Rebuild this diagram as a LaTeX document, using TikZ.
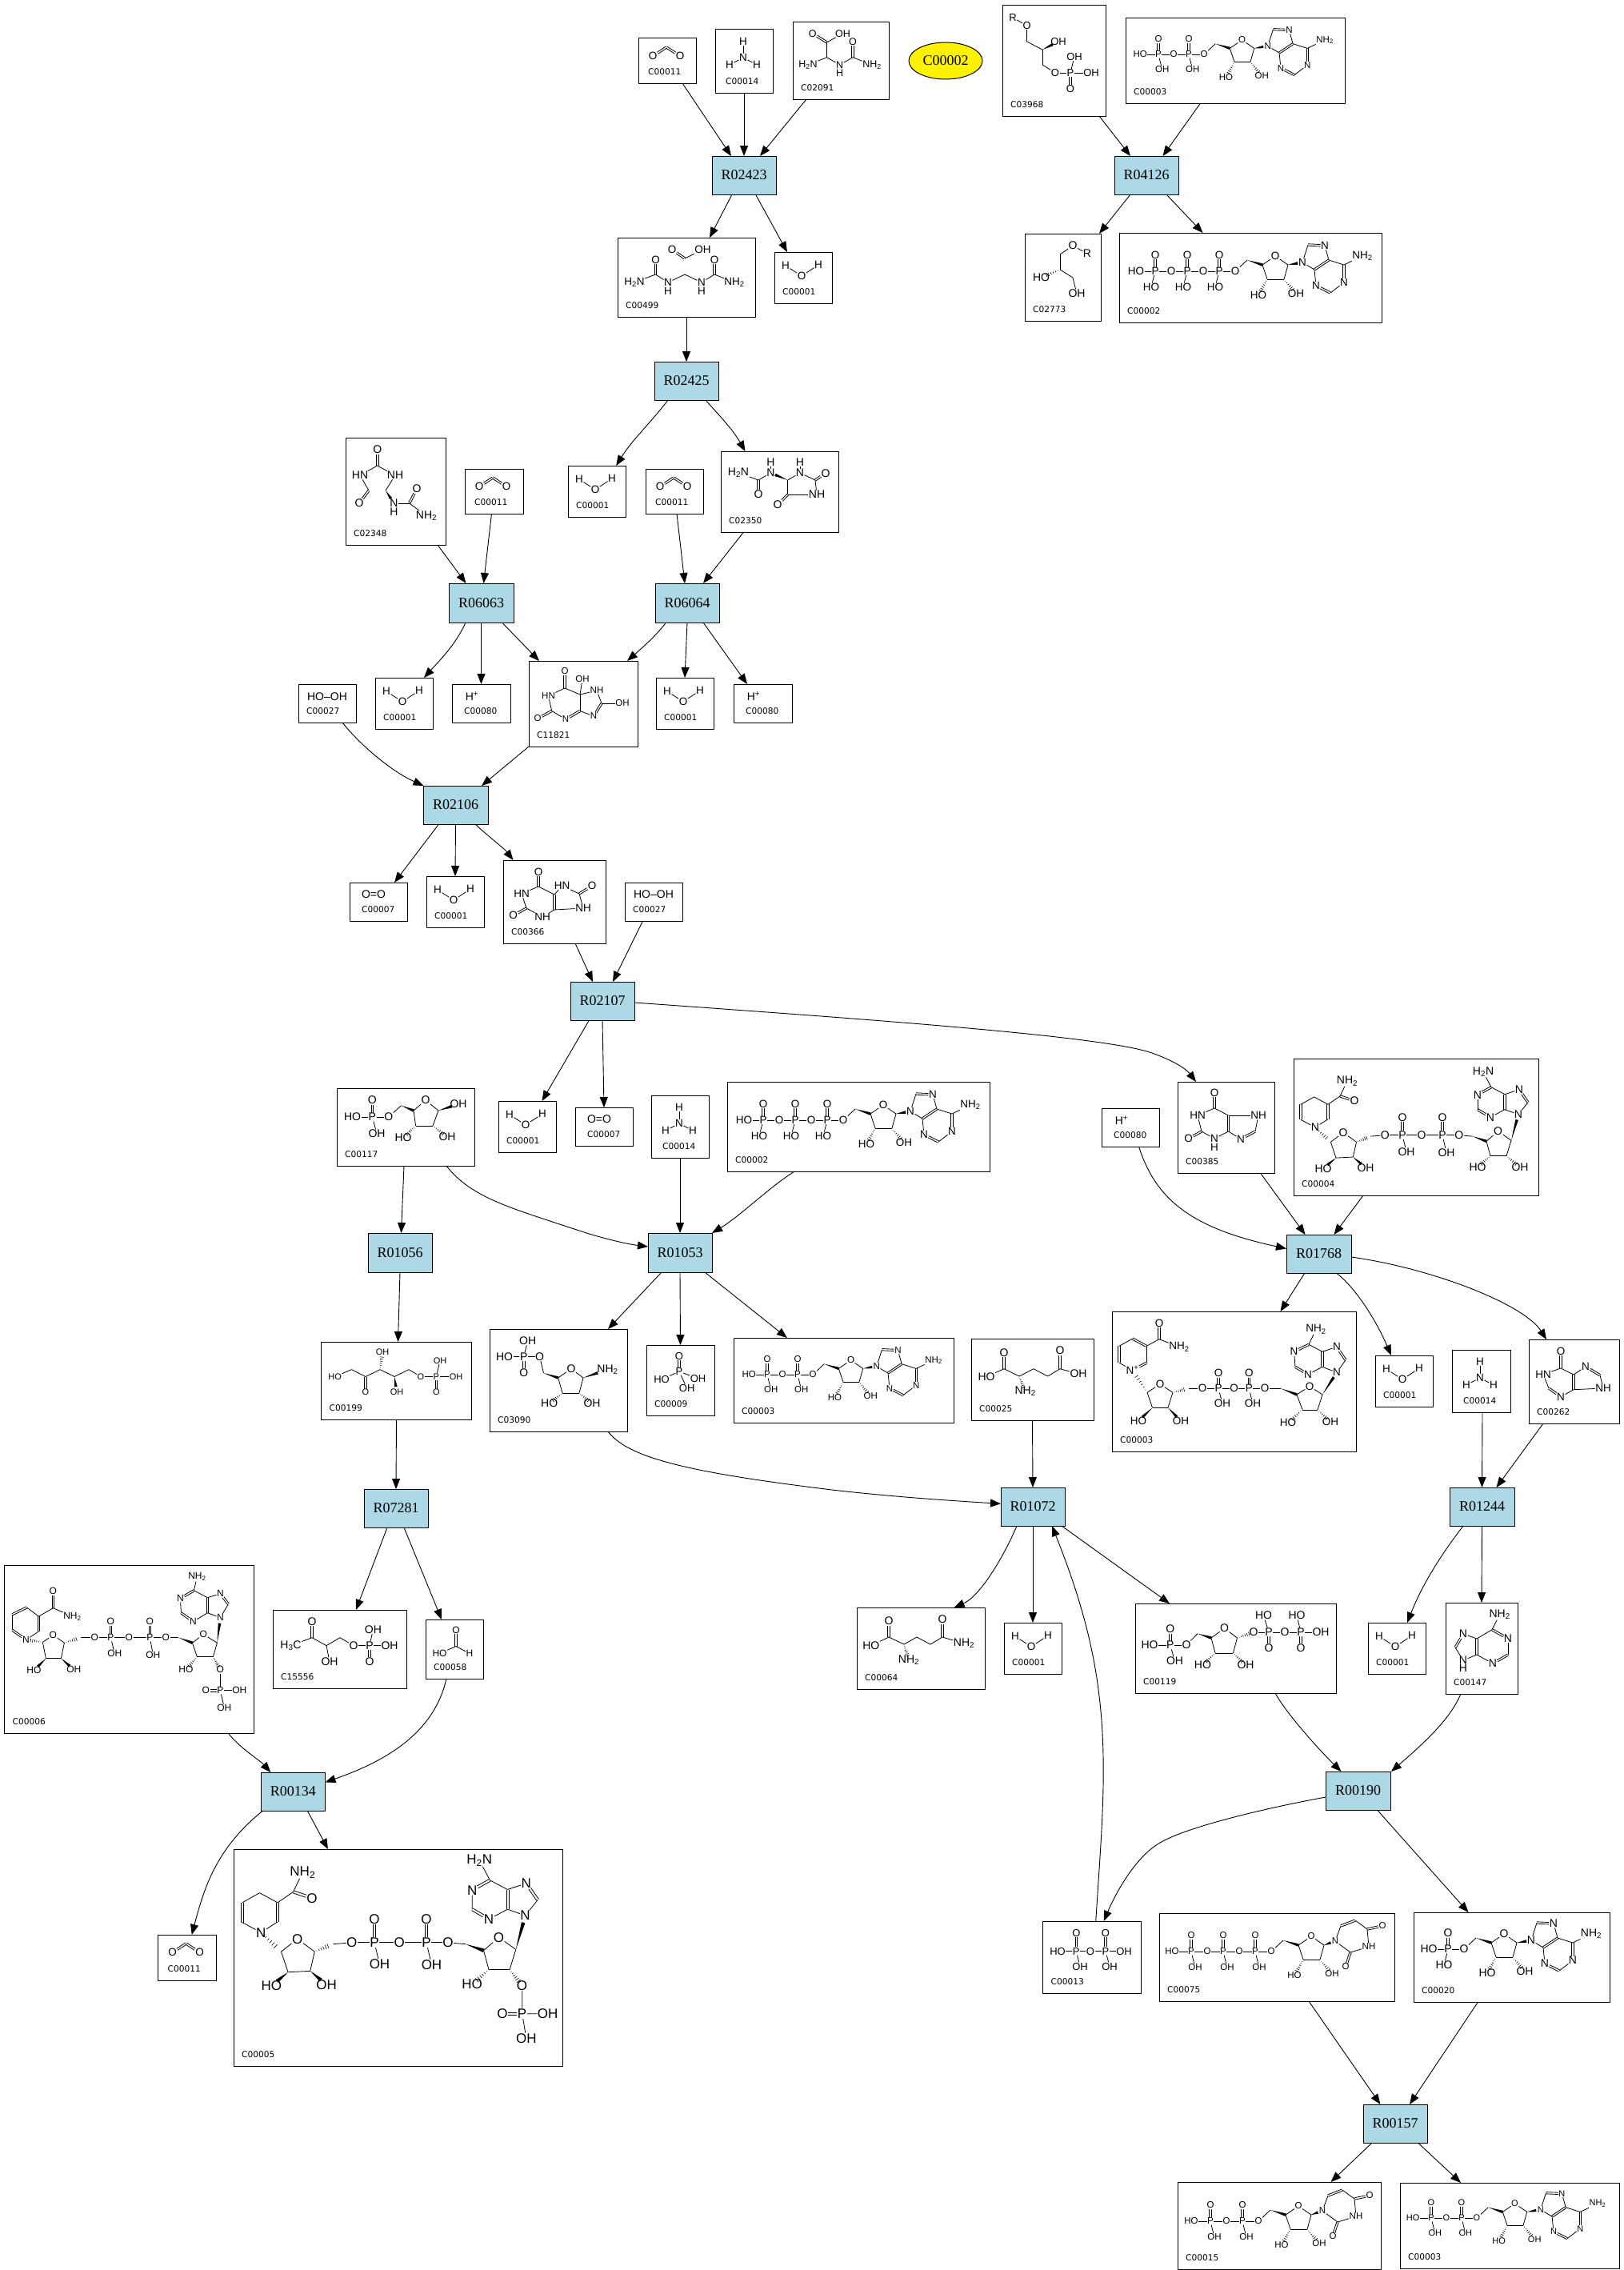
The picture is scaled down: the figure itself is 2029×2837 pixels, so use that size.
\documentclass[tikz,border=0pt]{standalone}
\usepackage{fontspec}
\setmainfont{Liberation Sans}
\newfontfamily\rfont{Liberation Serif}
\newfontfamily\idfont{DejaVu Sans}
\usetikzlibrary{calc,arrows.meta,shapes.geometric}
\definecolor{rblue}{HTML}{ADD8E6}
\def\atsz{13}
\newcommand\atfont{\fontsize{\atsz}{\atsz}\selectfont}
\newcommand\NHt{NH\textsubscript{2}}
\newcommand\HtN{H\textsubscript{2}N}
\tikzset{
 comp/.style={draw=black,line width=1pt,fill=white,inner sep=0,outer sep=0},
 react/.style={draw=black,line width=1pt,fill=rblue,inner sep=0,outer sep=0,font=\rfont\fontsize{18}{18}\selectfont},
 cid/.style={anchor=west,inner sep=0,font=\idfont\fontsize{10.6}{11}\selectfont},
 atom/.style={inner sep=.4pt,font=\atfont},
 bond/.style={line width=.8pt},
 edge/.style={line width=.9pt,-{Triangle[length=13pt,width=10pt]}}
}
\newcommand\cbox[6][10]{\pgfmathsetmacro\bxc{(#3+#5)/2}\pgfmathsetmacro\byc{(#4+#6)/2}%
 \pgfmathsetmacro\bxw{#5-#3}\pgfmathsetmacro\byh{#6-#4}\pgfmathsetmacro\bxl{#3+#1}\pgfmathsetmacro\byl{#6-14.5}%
 \node[comp,minimum width=\bxw pt,minimum height=\byh pt](#2) at (\bxc,\byc){};%
 \node[cid](#2-id) at (\bxl,\byl){\csname idtxt\endcsname};}
\newcommand\rnode[5]{\pgfmathsetmacro\bxc{(#2+#4)/2}\pgfmathsetmacro\byc{(#3+#5)/2}%
 \pgfmathsetmacro\bxw{#4-#2}\pgfmathsetmacro\byh{#5-#3}%
 \node[react,minimum width=\bxw pt,minimum height=\byh pt](#1) at (\bxc,\byc){#1};}
\newcommand\cb[7][10]{\def\idtxt{#7}\cbox[#1]{#2}{#3}{#4}{#5}{#6}}
\newcommand\ess[4]{\draw[edge] ([xshift=#2pt]#1.south) -- ([xshift=#4pt]#3.north);}
\newcommand\ecv[5]{\draw[edge] ([xshift=#2pt]#1.south) #5 ([xshift=#4pt]#3.north);}
\newcommand\atm[4]{\node[atom](#1) at (#2,#3){#4};}
\newcommand\pnt[3]{\coordinate (#1) at (#2,#3);}
\newcommand\bnd[1]{\foreach \bu/\bv in {#1}{\draw[bond] (\bu)--(\bv);}}
\newcommand\dbd[1]{\foreach \bu/\bv in {#1}{\path let \p1=($(\bv)-(\bu)$),\n1={atan2(\y1,\x1)},\n2={\n1+180} in coordinate (da) at (\bu.\n1) coordinate (db) at (\bv.\n2);%
 \draw[bond] ($(da)!1.2pt!90:(db)$) -- ($(db)!1.2pt!-90:(da)$);%
 \draw[bond] ($(da)!1.2pt!-90:(db)$) -- ($(db)!1.2pt!90:(da)$);}}
\newcommand\wdg[3]{\coordinate (wt) at ($(#2)!#3pt!(#1)$);\fill ($(#1)$) -- ($(wt)!1.8pt!90:(#1)$) -- ($(wt)!1.8pt!-90:(#1)$) -- cycle;}
\newcommand\hsh[2]{\foreach \hf in {.12,.24,.36,.48,.6,.72}{\pgfmathsetmacro\hw{\hf*3.4}\draw[line width=.6pt] ($($(#1)!\hf!(#2)$)!\hw pt!90:(#2)$) -- ($($(#1)!\hf!(#2)$)!\hw pt!-90:(#2)$);}}
\newcommand\ms[2]{\begin{scope}[name prefix=#1-]\def\atsz{#2}}
\newcommand\me{\end{scope}}
% small molecules, origin = top-left corner of box
\newcommand\water[3]{\begin{scope}[name prefix=#1-,shift={(#2,#3)}]\def\atsz{13.5}\atm{ha}{14}{17}{H}\atm{o}{34}{30}{O}\atm{hb}{55}{16}{H}\bnd{ha/o,o/hb}\end{scope}}
\newcommand\ammonia[3]{\begin{scope}[name prefix=#1-,shift={(#2,#3)}]\def\atsz{13.5}\atm{ha}{35}{15}{H}\atm{n}{35}{35}{N}\atm{hb}{18}{44}{H}\atm{hc}{52}{44}{H}\bnd{ha/n,hb/n,hc/n}\end{scope}}
\newcommand\cotwo[3]{\begin{scope}[name prefix=#1-,shift={(#2,#3)}]\def\atsz{13.5}\atm{oa}{18}{22}{O}\pnt{c}{35}{11}\atm{ob}{52}{22}{O}\dbd{oa/c,c/ob}\end{scope}}
\newcommand\proton[3]{\begin{scope}[name prefix=#1-,shift={(#2,#3)}]\def\atsz{14}\atm{h}{25}{15}{H\textsuperscript{+}}\end{scope}}
% phosphate chain: n, dx of lower label, lower label
\newcommand\phos[3]{\foreach \i in {1,...,#1}{\pgfmathsetmacro\xp{-20-40*(\i-1)}\pgfmathtruncatemacro\ip{\i-1}\pgfmathsetmacro\xo{\xp-20}\pgfmathsetmacro\xb{\xp+#2}\pgfmathsetmacro\xh{\xp-24}%
 \atm{p\i}{\xp}{0}{P}\atm{t\i}{\xp}{-20}{O}\atm{b\i}{\xb}{20}{#3}\dbd{p\i/t\i}\bnd{p\i/b\i,p\i/l\ip}%
 \ifnum\i<#1 \atm{l\i}{\xo}{0}{O}\else\atm{l\i}{\xh}{0}{HO}\fi\bnd{p\i/l\i}}}
\newcommand\ribo{\atm{l0}{0}{0}{O}\pnt{c5}{15}{-14}\pnt{c4}{34}{-8}\atm{o4}{50}{-19}{O}\pnt{c1}{66}{-8}\pnt{c2}{61}{10}\pnt{c3}{40}{10}\atm{o3}{29}{30}{HO}\atm{o2}{76}{28}{OH}%
 \bnd{l0/c5,c4/o4,o4/c1,c1/c2,c2/c3,c3/c4}\wdg{c5}{c4}{0}\hsh{c3}{o3}\hsh{c2}{o2}}
\newcommand\adenine{\atm{n9}{84}{-11}{N}\pnt{c8}{91}{-33}\atm{n7}{112}{-32}{N}\pnt{c5b}{117}{-14}\pnt{c4b}{99}{-2}\atm{n3}{101}{18}{N}\pnt{c2b}{119}{27}\atm{n1}{136}{14}{N}\pnt{c6}{136}{-8}\atm{nh}{159}{-19}{\NHt}%
 \bnd{n9/c8,n7/c5b,c4b/n9,c4b/n3,c2b/n1,c6/c5b,c6/nh}\dbd{c8/n7,c5b/c4b,n3/c2b,n1/c6}\wdg{c1}{n9}{6}}
\newcommand\uracil{\atm{n9}{80}{-13}{N}\pnt{c8}{87}{-32}\pnt{c7}{105}{-39}\pnt{c4b}{120}{-28}\atm{ox}{139}{-32}{O}\atm{nh}{122}{-6}{NH}\pnt{c2b}{99}{1}\atm{oy}{93}{19}{O}%
 \bnd{n9/c8,c7/c4b,c4b/nh,nh/c2b,c2b/n9}\dbd{c8/c7,c4b/ox,c2b/oy}\wdg{c1}{n9}{6}}
% prefix,x,y,scale,font,n,dx,lowerlabel,base
\newcommand\nucl[9]{\begin{scope}[name prefix=#1-,shift={(#2,#3)},scale=#4]\def\atsz{#5}\ribo\phos{#6}{#7}{#8}#9\end{scope}}
% NADH layout; #5=1 with 2'-phosphate
\newcommand\nadh[5]{\begin{scope}[name prefix=#1-,shift={(#2,#3)},scale=#4]\def\atsz{\nadsz}%
 \pnt{r1}{-110.4}{-47.8}\pnt{r2}{-93}{-38.4}\pnt{r3}{-93}{-20}\atm{rn}{-109}{-9.7}{N}\pnt{r5}{-127}{-19.4}\pnt{r6}{-127}{-38.4}%
 \pnt{ca}{-78}{-48.8}\atm{ca1}{-60}{-42.6}{O}\atm{ca2}{-69}{-67.5}{\NHt}%
 \bnd{r1/r2,r3/rn,rn/r5,r6/r1,r2/ca,ca/ca2}\dbd{r2/r3,r5/r6,ca/ca1}%
 \pnt{a1}{-89.6}{8.7}\atm{ao}{-74}{-3.5}{O}\pnt{a4}{-57.5}{8.7}\pnt{a3}{-61.7}{27.3}\pnt{a2}{-83}{28.4}\atm{ahb}{-99}{41.5}{HO}\atm{aha}{-46}{40.5}{OH}%
 \bnd{a1/ao,ao/a4,a4/a3,a3/a2,a2/a1}\hsh{rn}{a1}\wdg{a2}{ahb}{7}\wdg{a3}{aha}{7}%
 \pnt{hx}{-39.6}{1.4}\atm{ol}{-21.7}{0}{O}\hsh{a4}{hx}\bnd{hx/ol}%
 \atm{pa}{0}{0}{P}\atm{pat}{0}{-22.5}{O}\atm{pab}{5}{20.8}{OH}\atm{om}{24}{0}{O}\atm{pb}{50}{0}{P}\atm{pbt}{50}{-22.5}{O}\atm{pbb}{55}{21.5}{OH}\atm{or}{70.8}{0}{O}%
 \bnd{ol/pa,pa/pab,pa/om,om/pb,pb/pbb,pb/or}\dbd{pa/pat,pb/pbt}%
 \pnt{c5}{87.5}{1.4}\pnt{c4}{105}{7.6}\atm{o4}{119.6}{-5}{O}\pnt{c1}{136}{6.6}\pnt{c2}{130}{26}\pnt{c3}{110}{26}\atm{oc}{94}{40}{HO}%
 \bnd{or/c5,c4/o4,o4/c1,c1/c2,c2/c3,c3/c4}\wdg{c5}{c4}{0}\hsh{c3}{oc}%
 \ifnum#5=1 \atm{od}{142}{41.3}{O}\atm{pc}{142}{68.4}{P}\atm{pcl}{123}{68.4}{O}\atm{pcr}{166.6}{68.4}{OH}\atm{pcb}{146}{91.8}{OH}\hsh{c2}{od}\bnd{od/pc,pc/pcr,pc/pcb}\dbd{pc/pcl}\else\atm{od}{147}{40}{OH}\hsh{c2}{od}\fi
 \atm{n9}{145}{-26}{N}\pnt{c8}{157}{-41}\atm{n7}{146}{-57}{N}\pnt{c5b}{128}{-51}\pnt{c4b}{128}{-32}\atm{n3}{110}{-22.5}{N}\pnt{c2b}{94}{-32}\atm{n1}{94}{-50.5}{N}\pnt{c6}{111}{-60}\atm{nh}{101}{-79}{\HtN}%
 \bnd{n9/c8,n7/c5b,c4b/n9,c4b/n3,c2b/n1,c6/c5b,c6/nh}\dbd{c8/n7,c5b/c4b,n3/c2b,n1/c6}\wdg{c1}{n9}{7}\end{scope}}
\begin{document}
\begin{tikzpicture}[x=1pt,y=-1pt]
\useasboundingbox (0,0) rectangle (2029,2837);
\fill[white] (0,0) rectangle (2029,2837);
% ---------- reactions ----------
\rnode{R02423}{890}{195}{970}{243}
\rnode{R04126}{1393}{195}{1473}{243}
\rnode{R02425}{818}{452}{898}{500}
\rnode{R06063}{561}{729}{642}{778}
\rnode{R06064}{819}{729}{899}{778}
\rnode{R02106}{529}{982}{610}{1030}
\rnode{R02107}{713}{1227}{793}{1275}
\rnode{R01056}{460}{1541}{540}{1590}
\rnode{R01053}{810}{1541}{890}{1590}
\rnode{R01768}{1608}{1543}{1689}{1591}
\rnode{R07281}{455}{1861}{535}{1909}
\rnode{R01072}{1251}{1859}{1331}{1907}
\rnode{R01244}{1812}{1859}{1893}{1907}
\rnode{R00134}{326}{2215}{406.5}{2263}
\rnode{R00190}{1657}{2214}{1738}{2262}
\rnode{R00157}{1704}{2630}{1784}{2678}
\node[draw=black,line width=1pt,fill=yellow,ellipse,inner sep=0,minimum width=92pt,minimum height=46pt,font=\rfont\fontsize{18}{18}\selectfont] (cpd) at (1182,76) {C00002};
% ---------- compound boxes ----------
\cb[12]{a011}{798}{48}{870}{104}{C00011}
\cb[13]{a014}{894}{37}{966}{116}{C00014}
\cb{a2091}{991}{28}{1111}{124}{C02091}
\cb{a3968}{1253}{7}{1382}{145}{C03968}
\cb{a003}{1407}{23}{1681}{129}{C00003}
\cb{b499}{772}{297}{944}{396}{C00499}
\cb{b001}{968}{315}{1040}{379}{C00001}
\cb{b2773}{1281}{292}{1376}{401}{C02773}
\cb{b002}{1399}{291}{1727}{403}{C00002}
\cb{d2348}{432}{547}{557}{681}{C02348}
\cb[12]{d011}{581}{586}{654}{642}{C00011}
\cb{d001}{710}{582}{782.5}{646}{C00001}
\cb[12]{e011}{807}{586}{879}{642}{C00011}
\cb{e2350}{901}{564}{1048}{665}{C02350}
\cb{f001}{469}{847}{541}{911}{C00001}
\cb[15]{f080}{565}{855}{638}{903}{C00080}
\cb{f1821}{661}{826}{797}{933}{C11821}
\cb{g001}{820}{847}{892}{911}{C00001}
\cb[15]{g080}{917}{855}{990}{903}{C00080}
\cb{f027}{373}{855}{445}{903}{C00027}
\cb[15]{h007}{437}{1103}{509}{1151}{C00007}
\cb{h001}{533}{1095}{605}{1159}{C00001}
\cb{h366}{629}{1075}{757}{1179}{C00366}
\cb{h027}{781}{1103}{853}{1151}{C00027}
\cb{i117}{421}{1360}{593}{1457}{C00117}
\cb{i001}{623}{1376}{695}{1440}{C00001}
\cb[15]{i007}{719}{1384}{791}{1432}{C00007}
\cb[14]{i014}{814}{1369}{886}{1447}{C00014}
\cb{i002}{909}{1352}{1237}{1464}{C00002}
\cb{j385}{1472}{1352}{1593}{1466}{C00385}
\cb{j004}{1617}{1323.5}{1923}{1494}{C00004}
\cb[15]{j080}{1377}{1385}{1449}{1433}{C00080}
\cb{k199}{401.5}{1677}{589.5}{1774}{C00199}
\cb{k3090}{612}{1661}{784}{1789}{C03090}
\cb{k009}{808}{1681}{893}{1769}{C00009}
\cb{k003}{917}{1672}{1192}{1778}{C00003}
\cb{k025}{1214}{1673}{1367}{1775}{C00025}
\cb{k103}{1390}{1639}{1695}{1814}{C00003}
\cb{k001}{1719}{1694}{1791}{1758}{C00001}
\cb[14]{k014}{1815}{1687}{1888}{1765}{C00014}
\cb{k262}{1911}{1674}{2024}{1779}{C00262}
\cb{l556}{341}{2012}{508}{2110}{C15556}
\cb{l058}{532}{2024}{604}{2098}{C00058}
\cb{l006}{5.5}{1956}{317}{2166}{C00006}
\cb{m064}{1071}{2009}{1231}{2111}{C00064}
\cb{m001}{1255}{2028}{1327}{2092}{C00001}
\cb{m119}{1419}{2004}{1670}{2116}{C00119}
\cb{m101}{1710}{2028}{1782}{2092}{C00001}
\cb{m147}{1807}{2003}{1897}{2117}{C00147}
\cb[12]{n011}{197.5}{2418}{270}{2475}{C00011}
\cb{n005}{292}{2311}{703}{2582}{C00005}
\cb{o013}{1303.5}{2401}{1426}{2491}{C00013}
\cb{o075}{1449}{2391}{1743}{2501}{C00075}
\cb{o020}{1767}{2390}{2012}{2502}{C00020}
\cb{p015}{1472}{2727}{1726}{2836}{C00015}
\cb{p003}{1750}{2728}{2024}{2835}{C00003}
% ---------- connectors ----------
\ess{a011}{19}{R02423}{-16}
\ess{a014}{0}{R02423}{0}
\ess{a2091}{-43}{R02423}{20}
\ess{R02423}{-15}{b499}{29}
\ess{R02423}{14.5}{b001}{-20}
\ess{b499}{0}{R02425}{0}
\ess{a3968}{56.5}{R04126}{-20}
\ess{a003}{-43.5}{R04126}{20.5}
\ess{R04126}{-20}{b2773}{45.5}
\ess{R04126}{25}{b002}{-59.5}
\ecv{R02425}{-23}{d001}{24}{.. controls (812,530) and (790,550) ..}
\ecv{R02425}{24}{e2350}{-43}{.. controls (895,515) and (915,535) ..}
\ess{d2348}{52.5}{R06063}{-19}
\ess{d011}{-3}{R06063}{3}
\ess{e011}{3}{R06064}{-3}
\ess{e2350}{-45}{R06064}{20}
\ecv{R06063}{-19.5}{f001}{25}{.. controls (570,805) and (550,825) ..}
\ess{R06063}{0}{f080}{0}
\ess{R06063}{26}{f1821}{-55}
\ecv{R06064}{-26.5}{f1821}{55}{.. controls (820,795) and (800,812) ..}
\ess{R06064}{0}{g001}{0}
\ess{R06064}{20}{g080}{-19.5}
\ecv{f027}{19}{R02106}{-40}{.. controls (445,925) and (485,962) ..}
\ess{f1821}{-68}{R02106}{32.5}
\ess{R02106}{-21}{h007}{20}
\ess{R02106}{0}{h001}{0}
\ecv{R02106}{24.5}{h366}{-51.5}{.. controls (610,1045) and (630,1060) ..}
\ess{h366}{26}{R02107}{-12}
\ess{h027}{-13.5}{R02107}{13}
\ess{R02107}{-16.6}{i001}{18.5}
\ess{R02107}{0}{i007}{0}
\draw[edge] ([yshift=-2pt]R02107.east) .. controls (1100,1275) and (1380,1295) .. (1440,1316) .. controls (1465,1325) and (1482,1335) .. ([xshift=-37.5pt]j385.north);
\ess{i117}{-2}{R01056}{1.5}
\draw[edge] ([xshift=51pt]i117.south) .. controls (590,1498) and (640,1510) .. (730,1540) .. controls (755,1548) and (785,1555) .. ([yshift=7.5pt]R01053.west);
\ess{i014}{0}{R01053}{0}
\ecv{i002}{-80}{R01053}{40}{.. controls (960,1485) and (925,1520) ..}
\ess{R01056}{0}{k199}{2}
\ess{R01053}{-23}{k3090}{62}
\ess{R01053}{0}{k009}{0}
\ess{R01053}{31}{k003}{-70.6}
\ess{k199}{0}{R07281}{0}
\draw[edge] ([xshift=62pt]k3090.south) .. controls (785,1822) and (860,1840) .. (1040,1862) .. controls (1110,1870) and (1180,1875) .. ([yshift=3.7pt]R01072.west);
\ess{R07281}{-11}{l556}{20.5}
\ess{R07281}{10}{l058}{-16}
\ecv{l006}{124}{R00134}{-28}{.. controls (300,2185) and (325,2200) ..}
\draw[edge] ([xshift=-10pt]l058.south) .. controls (545,2155) and (500,2195) .. ([yshift=11.6pt]R00134.east);
\ecv{R00134}{-37.7}{n011}{6}{.. controls (270,2310) and (255,2360) ..}
\ess{R00134}{18}{n005}{-87.5}
\ess{j385}{43}{R01768}{-17}
\ess{j004}{-66}{R01768}{19}
\draw[edge] ([xshift=10.5pt]j080.south) .. controls (1445,1500) and (1490,1535) .. ([yshift=6.5pt]R01768.west);
\ess{R01768}{-17.6}{k103}{58}
\ecv{R01768}{22}{k001}{-16}{.. controls (1695,1610) and (1720,1650) ..}
\draw[edge] ([yshift=-4pt]R01768.east) .. controls (1790,1585) and (1905,1630) .. ([xshift=-34.5pt]k262.north);
\ess{k025}{0}{R01072}{0}
\ess{k014}{1.5}{R01244}{0}
\ess{k262}{-38.5}{R01244}{18}
\ecv{R01072}{-20}{m064}{41.6}{.. controls (1255,1945) and (1225,1995) ..}
\ess{R01072}{0}{m001}{0}
\ess{R01072}{36}{m119}{-82.5}
\draw[edge] ([xshift=5pt]o013.north) .. controls (1376,2300) and (1385,2210) .. (1374,2120) .. controls (1365,2040) and (1340,1970) .. ([xshift=24pt]R01072.south);
\ecv{R01244}{-23.5}{m101}{13}{.. controls (1796,1950) and (1776,1985) ..}
\ess{R01244}{0}{m147}{0}
\ecv{m119}{49.5}{R00190}{-21}{.. controls (1607,2140) and (1647,2185) ..}
\ecv{m147}{-26}{R00190}{41.5}{.. controls (1812,2150) and (1778,2180) ..}
\draw[edge] ([yshift=-8pt]R00190.west) .. controls (1570,2262) and (1480,2285) .. (1450,2303) .. controls (1420,2320) and (1395,2365) .. ([xshift=15pt]o013.north);
\ess{R00190}{24}{o020}{-54}
\ess{o075}{40}{R00157}{-18.6}
\ess{o020}{-42}{R00157}{18}
\ess{R00157}{-29}{p015}{64.5}
\ess{R00157}{28.5}{p003}{-61}
% ---------- simple molecules ----------
\cotwo{ma1}{798}{48}\cotwo{ma2}{581}{586}\cotwo{ma3}{807}{586}\cotwo{ma4}{197.5}{2418}
\water{mw1}{968}{315}\water{mw2}{710}{582}\water{mw3}{469}{847}\water{mw4}{820}{847}\water{mw5}{533}{1095}\water{mw6}{623}{1376}\water{mw7}{1719}{1694}\water{mw8}{1255}{2028}\water{mw9}{1710}{2028}
\ammonia{mn1}{894}{37}\ammonia{mn2}{814}{1369}\ammonia{mn3}{1815}{1687}
\proton{mh1}{565}{855}\proton{mh2}{917}{855}\proton{mh3}{1377}{1385}
\ms{mo1}{14}\atm{t}{467}{1118}{O=O}\me
\ms{mo2}{14}\atm{t}{749}{1399}{O=O}\me
\ms{mp1}{14}\atm{t}{409}{871}{HO--OH}\me
\ms{mp2}{14}\atm{t}{817}{1118}{HO--OH}\me
% ---------- nucleotides ----------
\nucl{atpa}{1544}{339}{1}{13.5}{3}{-5}{HO}{\adenine}
\nucl{atpb}{1054}{1400}{1}{13.5}{3}{-5}{HO}{\adenine}
\nucl{adpa}{1505}{68}{.95}{11.5}{2}{5}{OH}{\adenine}
\nucl{adpb}{1016}{1718}{.95}{11.5}{2}{5}{OH}{\adenine}
\nucl{adpc}{1846}{2772}{.95}{11}{2}{5}{OH}{\adenine}
\nucl{amp}{1830}{2436}{1}{14}{1}{-5}{HO}{\adenine}
\nucl{utp}{1589}{2439}{1}{11.5}{3}{5}{OH}{\uracil}
\nucl{udp}{1573}{2776}{1}{11.5}{2}{5}{OH}{\uracil}
\def\nadsz{14}\nadh{nadh}{1753}{1418.7}{1}{0}
\def\nadsz{17}\nadh{ndph}{468}{2427.8}{1.3}{1}
% NAD+
\begin{scope}[name prefix=nad-,shift={(1523,1735.3)}]\def\atsz{13.5}
\pnt{r1}{-107.5}{-62.3}\pnt{r2}{-90}{-53}\pnt{r3}{-90}{-32}\atm{rn}{-107.5}{-23}{N\textsuperscript{+}}\pnt{r5}{-124}{-32}\pnt{r6}{-124}{-53}
\pnt{ca}{-74}{-61.6}\atm{ca1}{-74}{-81.7}{O}\atm{ca2}{-49}{-52}{\NHt}
\bnd{r2/r3,rn/r5,r6/r1,r2/ca,ca/ca2}\dbd{r1/r2,r3/rn,r5/r6,ca/ca1}
\pnt{a1}{-89}{5}\atm{ao}{-73}{-5.5}{O}\pnt{a4}{-57}{5}\pnt{a3}{-63}{24}\pnt{a2}{-82.5}{24}\atm{ahb}{-100}{40.5}{HO}\atm{aha}{-47}{40.5}{OH}
\bnd{a1/ao,ao/a4,a4/a3,a3/a2,a2/a1}\hsh{a1}{rn}\wdg{a2}{ahb}{7}\wdg{a3}{aha}{7}
\pnt{hx}{-37.5}{0}\atm{ol}{-20}{0}{O}\hsh{a4}{hx}\bnd{hx/ol}
\atm{pa}{0}{0}{P}\atm{pat}{0}{-19}{O}\atm{pab}{5}{19}{OH}\atm{om}{19.6}{0}{O}\atm{pb}{38.3}{0}{P}\atm{pbt}{38.3}{-19}{O}\atm{pbb}{43}{19}{OH}\atm{or}{58}{0}{O}
\bnd{ol/pa,pa/pab,pa/om,om/pb,pb/pbb,pb/or}\dbd{pa/pat,pb/pbt}
\pnt{c5}{78}{0}\pnt{c4}{98}{7.6}\atm{o4}{114}{-2.8}{O}\pnt{c1}{130}{7.6}\pnt{c2}{124}{26.6}\pnt{c3}{105}{26.6}\atm{oc}{87}{43}{HO}\atm{od}{140}{42}{OH}
\bnd{or/c5,c4/o4,o4/c1,c1/c2,c2/c3,c3/c4}\wdg{c5}{c4}{0}\hsh{c3}{oc}\hsh{c2}{od}
\atm{n9}{148}{-20}{N}\pnt{c8}{159}{-35.6}\atm{n7}{148}{-52}{N}\pnt{c5b}{130}{-46}\pnt{c4b}{130}{-27}\atm{n3}{112}{-17.6}{N}\pnt{c2b}{96}{-27}\atm{n1}{94.6}{-46}{N}\pnt{c6}{113}{-55}\atm{nh}{122}{-74}{\NHt}
\bnd{n9/c8,n7/c5b,c4b/n9,c4b/n3,c2b/n1,c6/c5b,c6/nh}\dbd{c8/n7,c5b/c4b,n3/c2b,n1/c6}\wdg{c1}{n9}{7}
\end{scope}
% NADP+
\begin{scope}[name prefix=ndp-,shift={(138.4,2046.7)}]\def\atsz{12}
\pnt{r1}{-123}{-29}\pnt{r2}{-105}{-37.8}\pnt{r3}{-90}{-26.6}\pnt{r4}{-90}{-7.7}\atm{rn}{-106}{2.6}{N}\pnt{r6}{-123}{-9.4}
\pnt{ca}{-72}{-37}\atm{ca1}{-72}{-58}{O}\atm{ca2}{-48}{-26.6}{\NHt}
\bnd{r2/r3,r4/rn,r6/r1,r3/ca,ca/ca2}\dbd{r1/r2,r3/r4,rn/r6,ca/ca1}
\pnt{a1}{-85}{5.6}\atm{ao}{-72}{-3}{O}\pnt{a4}{-58}{6.4}\pnt{a3}{-62}{26}\pnt{a2}{-81}{26}\atm{ahb}{-96}{41}{HO}\atm{aha}{-46}{40}{OH}
\bnd{a1/ao,ao/a4,a4/a3,a3/a2,a2/a1}\hsh{a1}{rn}\wdg{a2}{ahb}{7}\wdg{a3}{aha}{7}
\pnt{hx}{-37}{0}\atm{ol}{-20}{0}{O}\hsh{a4}{hx}\bnd{hx/ol}
\atm{pa}{0}{0}{P}\atm{pat}{0}{-20}{O}\atm{pab}{5}{20}{OH}\atm{om}{23}{0}{O}\atm{pb}{49}{0}{P}\atm{pbt}{49}{-20}{O}\atm{pbb}{53}{22}{OH}\atm{or}{69}{0}{O}
\bnd{ol/pa,pa/pab,pa/om,om/pb,pb/pbb,pb/or}\dbd{pa/pat,pb/pbt}
\pnt{c5}{85}{0}\pnt{c4}{102}{6.4}\atm{o4}{116}{-4}{O}\pnt{c1}{133}{6.4}\pnt{c2}{128}{24}\pnt{c3}{108}{24}\atm{oc}{94}{40}{HO}\atm{od}{137}{40}{O}
\bnd{or/c5,c4/o4,o4/c1,c1/c2,c2/c3,c3/c4}\wdg{c5}{c4}{0}\hsh{c3}{oc}\hsh{c2}{od}
\atm{pc}{137}{66}{P}\atm{pcl}{119}{66}{O}\atm{pcr}{161}{66}{OH}\atm{pcb}{142}{88}{OH}\bnd{od/pc,pc/pcr,pc/pcb}\dbd{pc/pcl}
\atm{n9}{137}{-25}{N}\pnt{c8}{147}{-42}\atm{n7}{137}{-55}{N}\pnt{c5b}{121}{-50}\pnt{c4b}{121}{-31}\atm{n3}{103}{-20}{N}\pnt{c2b}{88}{-31}\atm{n1}{87}{-49}{N}\pnt{c6}{104}{-59}\atm{nh}{108}{-76}{\NHt}
\bnd{n9/c8,n7/c5b,c4b/n9,c4b/n3,c2b/n1,c6/c5b,c6/nh}\dbd{c8/n7,c5b/c4b,n3/c2b,n1/c6}\wdg{c1}{n9}{7}
\end{scope}
% ---------- other molecules (absolute coordinates) ----------
\begin{scope}[xshift=-2pt]
\ms{c2091}{12.5}
\atm{oa}{1017.7}{41.7}{O}\atm{ob}{1055.5}{41.7}{OH}\pnt{ca}{1035.6}{53}\pnt{cb}{1035.6}{71.7}\atm{na}{1012}{81}{\HtN}\atm{nb}{1051.7}{81}{N}\atm{hb}{1051.7}{91}{H}\pnt{cc}{1068}{71.7}\atm{oc}{1068}{52}{O}\atm{nc}{1092}{81}{\NHt}
\bnd{ca/ob,ca/cb,cb/na,cb/nb,nb/cc,cc/nc}\dbd{oa/ca,cc/oc}\me
\ms{c499}{13.5}
\atm{o1}{842}{312}{O}\pnt{c1}{858}{323}\atm{o2}{880.5}{312}{OH}\atm{na}{795}{353}{\HtN}\pnt{ca}{821.5}{343}\atm{oa}{821.5}{325}{O}\atm{nb}{837}{353}{N}\atm{hb}{837}{364}{H}\pnt{cb}{858}{343}\atm{nc}{879}{353}{N}\atm{hc}{879}{364}{H}\pnt{cc}{895}{343}\atm{oc}{895}{325}{O}\atm{nd}{920}{353}{\NHt}
\dbd{o1/c1,ca/oa,cc/oc}\bnd{c1/o2,na/ca,ca/nb,nb/cb,cb/nc,nc/cc,cc/nd}\me
\ms{c3968}{13}
\atm{r}{1268}{22}{R}\atm{oa}{1285.6}{32}{O}\pnt{ca}{1285.6}{52}\pnt{cb}{1305}{62}\atm{ob}{1325}{52}{OH}\pnt{cc}{1305}{81}\atm{oc}{1321}{91}{O}\atm{p}{1340}{91}{P}\atm{od}{1345}{71}{OH}\atm{oe}{1366}{91}{OH}\atm{of}{1340}{111}{O}
\bnd{r/oa,oa/ca,ca/cb,cb/cc,cc/oc,oc/p,p/od,p/oe}\dbd{p/of}\wdg{cb}{ob}{8}\me
\ms{c2773}{14}
\atm{o}{1343}{307}{O}\atm{r}{1361}{317}{R}\pnt{ca}{1327}{318}\pnt{cb}{1327}{337}\atm{h}{1303.6}{347}{HO}\pnt{cc}{1343}{347}\atm{oh}{1348}{367}{OH}
\bnd{r/o,o/ca,ca/cb,cb/cc,cc/oh}\hsh{cb}{h}\me
\end{scope}
\ms{c2348}{14}
\atm{oa}{471.7}{562}{O}\pnt{ca}{471.7}{582}\atm{na}{450}{594}{HN}\atm{nb}{494}{594}{NH}\pnt{cb}{461}{613}\atm{ob}{449}{629}{O}\pnt{cc}{482}{613}\atm{nc}{492.5}{629}{N}\atm{hc}{492.5}{640}{H}\pnt{cd}{511.7}{629}\atm{od}{521}{611}{O}\atm{nd}{533}{644.5}{\NHt}
\dbd{oa/ca,cb/ob,cd/od}\bnd{ca/na,ca/nb,na/cb,nb/cc,nc/cd,cd/nd}\wdg{cc}{nc}{7}\me
\begin{scope}[xshift=-2pt]
\ms{c2350}{14}
\atm{na}{925}{591}{\HtN}\pnt{ca}{950}{600}\atm{oa}{950}{618}{O}\atm{nb}{965.4}{591}{N}\atm{hb}{965.4}{578}{H}\pnt{cb}{986.7}{600}\atm{nc}{1002}{591}{N}\atm{hc}{1002}{578}{H}\pnt{cc}{1021}{600}\atm{oc}{1034}{591.6}{O}\atm{nd}{1023}{618}{NH}\pnt{cd}{986.7}{618}\atm{od}{974}{631}{O}
\dbd{ca/oa,cc/oc,cd/od}\bnd{na/ca,ca/nb,cb/nc,nc/cc,cc/nd,nd/cd,cd/cb,nb/hb,nc/hc}\wdg{cb}{nb}{6}\me
\ms{c11821}{11.5}
\atm{oa}{708}{839}{O}\pnt{ca}{708}{860}\atm{na}{687.5}{869.5}{HN}\pnt{cb}{691.7}{888.5}\atm{ob}{674}{898}{O}\atm{nb}{709}{899}{N}\pnt{cc}{727}{888.5}\pnt{cd}{727}{868}\atm{oh}{730}{849}{OH}\atm{nc}{748}{863}{NH}\pnt{ce}{754}{879}\atm{oe}{780}{879}{OH}\atm{nd}{744}{895}{N}
\dbd{oa/ca,cb/ob,nb/cc,ce/nd}\bnd{ca/na,na/cb,cb/nb,cc/cd,cd/ca,cd/oh,cd/nc,nc/ce,ce/oe,nd/cc}\me
\ms{c366}{13.5}
\atm{oa}{675}{1090}{O}\pnt{ca}{675}{1108}\atm{na}{654}{1117}{HN}\pnt{cb}{660}{1135}\atm{ob}{643.6}{1144}{O}\atm{nb}{680}{1146}{NH}\pnt{cc}{695}{1137}\pnt{cd}{695}{1118}\atm{nc}{704.6}{1107}{HN}\pnt{ce}{726}{1117}\atm{oe}{742}{1107}{O}\atm{nd}{731}{1135}{NH}
\dbd{oa/ca,cb/ob,cc/cd,ce/oe}\bnd{ca/na,na/cb,cb/nb,nb/cc,cd/ca,cd/nc,nc/ce,ce/nd,nd/cc}\me
\end{scope}
\ms{c117}{14}
\atm{oa}{465.4}{1375}{O}\atm{p}{465.4}{1396}{P}\atm{hb}{440.6}{1396}{HO}\atm{hc}{471}{1417}{OH}\atm{ob}{485.7}{1396}{O}\pnt{c5}{501.5}{1381.7}\pnt{c4}{517}{1388}\atm{o4}{532}{1375}{O}\pnt{c1}{548}{1388}\atm{oh}{573}{1380}{OH}\pnt{c2}{541}{1407}\pnt{c3}{519.6}{1407}\atm{h3}{504}{1422}{HO}\atm{h2}{559}{1421}{OH}
\dbd{p/oa}\bnd{p/hb,p/hc,p/ob,ob/c5,c4/o4,o4/c1,c1/c2,c2/c3,c3/c4}\wdg{c5}{c4}{0}\wdg{c1}{oh}{9}\hsh{c3}{h3}\hsh{c2}{h2}\me
\ms{c199}{11}
\atm{ha}{418.6}{1720.5}{HO}\pnt{ca}{439.5}{1711.6}\pnt{cb}{457}{1720.5}\atm{ob}{457}{1740}{O}\pnt{cc}{475}{1711.6}\atm{oc}{478}{1690}{OH}\pnt{cd}{493}{1720.5}\atm{od}{496}{1740}{OH}\pnt{ce}{511}{1711.6}\atm{oe}{526}{1720.5}{O}\atm{p}{545.4}{1720.5}{P}\atm{pa}{550}{1700.4}{OH}\atm{pb}{570}{1720.5}{OH}\atm{pc}{545.4}{1740}{O}
\dbd{cb/ob,p/pc}\bnd{ha/ca,ca/cb,cb/cc,cc/cd,cd/ce,ce/oe,oe/p,p/pa,p/pb}\hsh{cc}{oc}\wdg{cd}{od}{7}\me
\begin{scope}[xshift=-2pt]
\ms{c3090}{14}
\atm{oa}{661.7}{1675.7}{OH}\atm{p}{656.7}{1695.4}{P}\atm{hb}{632.5}{1695.4}{HO}\atm{oc}{676.6}{1695.4}{O}\atm{od}{656.7}{1716}{O}\pnt{c5}{681.5}{1716}\pnt{c4}{699.7}{1722}\atm{o4}{716}{1710.5}{O}\pnt{c1}{731}{1722}\atm{nh}{761.5}{1711.6}{\NHt}\pnt{c2}{726}{1741}\pnt{c3}{705}{1741}\atm{h3}{688.7}{1754}{HO}\atm{h2}{742}{1754}{OH}
\dbd{p/od}\bnd{p/oa,p/hb,p/oc,oc/c5,c4/o4,o4/c1,c1/c2,c2/c3,c3/c4}\wdg{c5}{c4}{0}\wdg{c1}{nh}{13}\hsh{c3}{h3}\hsh{c2}{h2}\me
\ms{c9}{13}
\atm{o}{851}{1695}{O}\atm{p}{851}{1714}{P}\atm{a}{829}{1724}{HO}\atm{b}{874.5}{1723}{OH}\atm{c}{860.7}{1735}{OH}\dbd{p/o}\bnd{p/a,p/b,p/c}\me
\ms{c25}{14}
\atm{oa}{1257}{1690.7}{O}\pnt{ca}{1257}{1710.7}\atm{ha}{1235}{1720.7}{HO}\pnt{cb}{1276}{1720}\atm{nh}{1283.6}{1739}{\NHt}\pnt{cc}{1294}{1710.7}\pnt{cd}{1311.6}{1720}\pnt{ce}{1327}{1710.7}\atm{oe}{1327}{1688}{O}\atm{hb}{1350}{1717}{OH}
\dbd{oa/ca,ce/oe}\bnd{ca/ha,ca/cb,cb/cc,cc/cd,cd/ce,ce/hb}\hsh{cb}{nh}\me
\ms{c64}{14}
\atm{oa}{1113}{2026}{O}\pnt{ca}{1113}{2046}\atm{ha}{1090.8}{2056.7}{HO}\pnt{cb}{1132}{2055}\atm{nh}{1138}{2075}{\NHt}\pnt{cc}{1148}{2046}\pnt{cd}{1165}{2055}\pnt{ce}{1180}{2046}\atm{oe}{1180}{2024}{O}\atm{nb}{1207}{2054}{\NHt}
\dbd{oa/ca,ce/oe}\bnd{ca/ha,ca/cb,cb/cc,cc/cd,cd/ce,ce/nb}\hsh{cb}{nh}\me
\end{scope}
\begin{scope}[xshift=-3pt]
\ms{c119}{14}
\atm{oa}{1465.8}{2036}{O}\atm{p}{1465.8}{2056}{P}\atm{ha}{1440}{2056}{HO}\atm{hb}{1471.5}{2076}{OH}\atm{ob}{1486}{2056}{O}\pnt{c5}{1500}{2041.7}\pnt{c4}{1517}{2047}\atm{o4}{1533.6}{2035}{O}\pnt{c1}{1549.5}{2047}\pnt{c2}{1544.4}{2066}\pnt{c3}{1522}{2066}\atm{h3}{1506.4}{2080.7}{HO}\atm{h2}{1560}{2080.7}{OH}\atm{oc}{1570}{2040}{O}\atm{q}{1589}{2040}{P}\atm{qa}{1582.5}{2019}{HO}\atm{qb}{1589}{2060}{O}\atm{od}{1609}{2040}{O}\atm{s}{1629}{2040}{P}\atm{sa}{1624}{2019}{HO}\atm{sb}{1629}{2060}{O}\atm{sc}{1654}{2040}{OH}
\dbd{p/oa,q/qb,s/sb}\bnd{p/ha,p/hb,p/ob,ob/c5,c4/o4,o4/c1,c1/c2,c2/c3,c3/c4,oc/q,q/qa,q/od,od/s,s/sa,s/sc}\wdg{c5}{c4}{0}\hsh{c3}{h3}\hsh{c2}{h2}\hsh{c1}{oc}\me
\ms{c147}{14}
\atm{nh}{1877.6}{2018}{\NHt}\pnt{c6}{1868}{2036.7}\atm{n1}{1888}{2048}{N}\pnt{c2}{1888}{2068}\atm{n3}{1869}{2079}{N}\pnt{c4}{1849}{2068}\pnt{c5}{1849}{2048}\atm{n7}{1832}{2042}{N}\pnt{c8}{1822}{2059}\atm{n9}{1832}{2075}{N}\atm{h}{1832}{2085}{H}
\bnd{nh/c6,c6/c5,n1/c2,n3/c4,c5/n7,c8/n9,n9/c4}\dbd{c6/n1,c2/n3,c4/c5,n7/c8}\me
\end{scope}
\begin{scope}[xshift=-2pt]
\ms{c385}{13.5}
\atm{oa}{1520}{1366}{O}\pnt{ca}{1520}{1385}\atm{na}{1499}{1394}{HN}\pnt{cb}{1504}{1414}\atm{ob}{1487.5}{1423}{O}\atm{nb}{1520}{1423}{N}\atm{hb}{1520}{1434}{H}\pnt{cc}{1537.5}{1414}\pnt{cd}{1537.5}{1394}\atm{nc}{1575}{1394}{NH}\pnt{ce}{1571}{1414}\atm{nd}{1553}{1423.5}{N}
\dbd{oa/ca,cb/ob,cc/cd,ce/nd}\bnd{ca/na,na/cb,cb/nb,nb/cc,cd/ca,cd/nc,nc/ce,nd/cc}\me
\end{scope}
\begin{scope}[xshift=-4pt]
\ms{c262}{13.5}
\atm{oa}{1955}{1689}{O}\pnt{ca}{1955}{1710}\atm{na}{1933}{1717.6}{HN}\pnt{cb}{1940}{1735}\atm{nb}{1955}{1745.7}{N}\pnt{cc}{1971}{1736.7}\pnt{cd}{1971}{1718}\atm{nc}{1986}{1708}{N}\pnt{ce}{2004}{1718.7}\atm{nd}{2008}{1735}{NH}
\dbd{oa/ca,cb/nb,cc/cd,nc/ce}\bnd{ca/na,na/cb,nb/cc,cd/ca,cd/nc,ce/nd,nd/cc}\me
\end{scope}
\begin{scope}[xshift=-2pt]
\ms{c15556}{14}
\atm{ha}{365.5}{2056.6}{H\textsubscript{3}C}\pnt{ca}{392}{2046.7}\atm{oa}{392}{2026.6}{O}\pnt{cb}{410}{2056.6}\atm{ob}{414}{2076.8}{OH}\pnt{cc}{427}{2046.7}\atm{oc}{444}{2056.6}{O}\atm{p}{464}{2056.6}{P}\atm{pa}{468.4}{2036.4}{OH}\atm{pb}{489}{2056.6}{OH}\atm{pc}{464}{2076.8}{O}
\dbd{ca/oa,p/pc}\bnd{ha/ca,ca/cb,cb/ob,cb/cc,cc/oc,oc/p,p/pa,p/pb}\me
\ms{c58}{12}
\atm{o}{572}{2037}{O}\pnt{c}{572}{2057.5}\atm{ho}{551.5}{2066.5}{HO}\atm{h}{589}{2066.5}{H}\dbd{o/c}\bnd{c/ho,c/h}\me
\end{scope}
\ms{c13}{13}
\atm{oa}{1345.3}{2415.7}{O}\atm{p}{1345.3}{2438.5}{P}\atm{ha}{1322}{2438.5}{HO}\atm{hb}{1350}{2457.7}{OH}\atm{ob}{1363}{2438.5}{O}\atm{q}{1382}{2438.5}{P}\atm{oc}{1382}{2415.7}{O}\atm{qa}{1405}{2438.5}{OH}\atm{qb}{1387}{2457.7}{OH}
\dbd{p/oa,q/oc}\bnd{p/ha,p/hb,p/ob,ob/q,q/qa,q/qb}\me
\end{tikzpicture}
\end{document}
